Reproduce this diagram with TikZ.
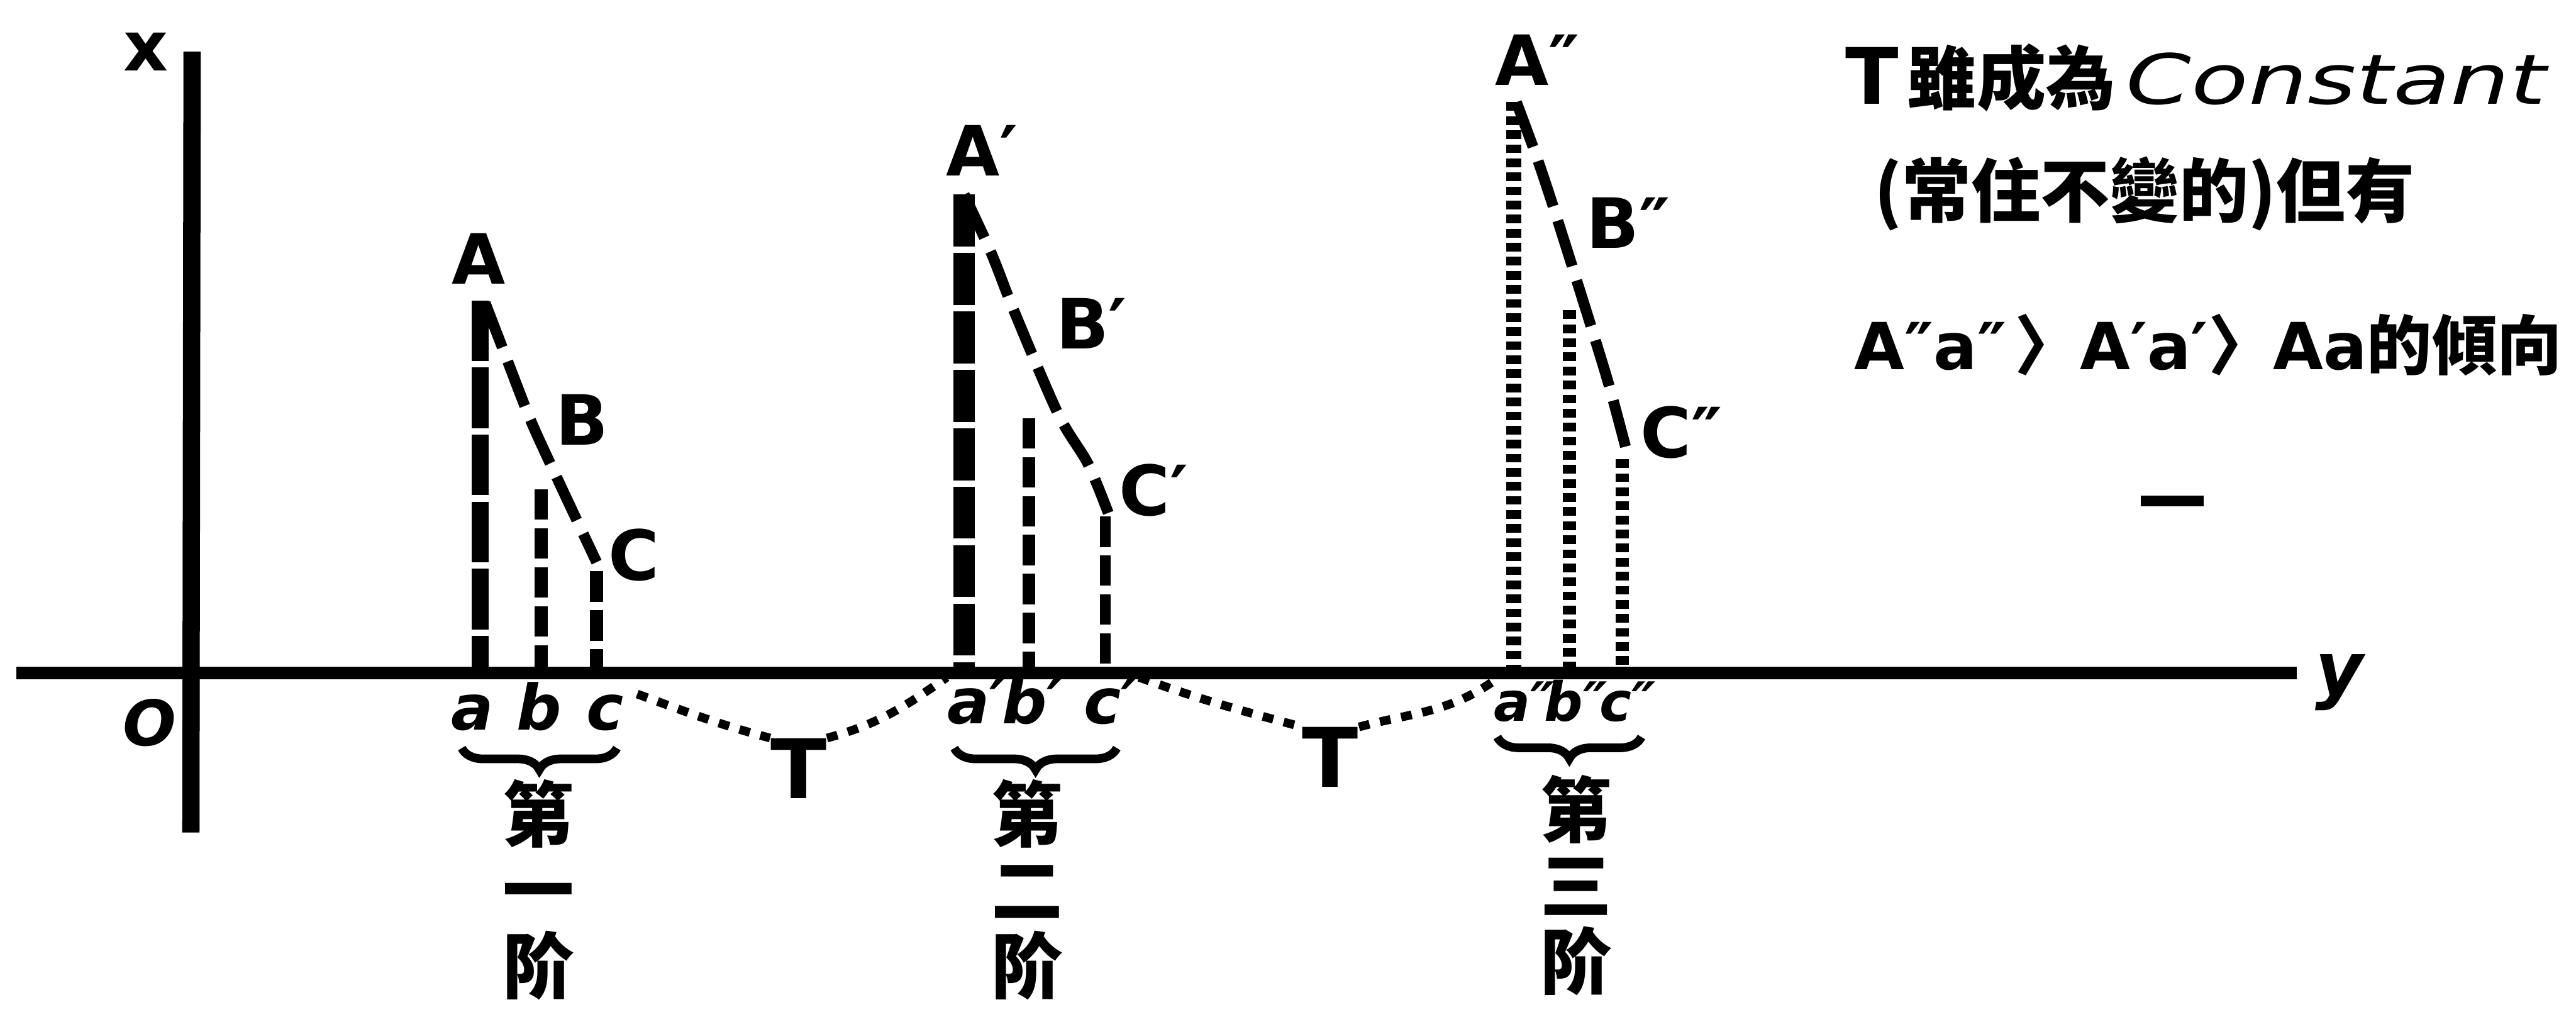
\documentclass[tikz,border=0pt]{standalone}
\usepackage{fontspec}
\setmainfont{DejaVu Sans}
\newfontfamily\cjk{Noto Sans CJK TC}
\usetikzlibrary{positioning,decorations.pathreplacing}

\begin{document}
\begin{tikzpicture}[
        lbl/.style={font=\fontsize{32}{36}\selectfont\bfseries, inner sep=0pt},
        sublbl/.style={font=\fontsize{29}{32}\selectfont\bfseries\itshape, inner sep=0pt, anchor=base},
        tlbl/.style={font=\fontsize{38}{40}\selectfont\bfseries, inner sep=0pt},
        stagelbl/.style={font=\fontsize{33}{35}\selectfont\cjk\bfseries, align=center, inner sep=0pt, anchor=north},
        note/.style={font=\fontsize{32}{36}\selectfont, inner sep=0pt, anchor=west},
        axisline/.style={line width=6pt},
        vthick/.style={line width=8pt, dash pattern=on 28pt off 3pt},
        vdash/.style={line width=6pt, dash pattern=on 14pt off 4pt},
        vdot/.style={line width=6pt, dash pattern=on 4pt off 2.5pt},
        slope/.style={line width=5pt, dash pattern=on 22pt off 7pt},
        tline/.style={line width=4pt, dash pattern=on 5pt off 5pt},
        brc/.style={decorate, decoration={brace, mirror, amplitude=0.35cm}, line width=4pt}]
        \useasboundingbox (0,0) rectangle (41.84,16.43);

        \coordinate (yl) at (0.27,5.50);
        \coordinate (yr) at (37.30,5.50);
        \coordinate (xt) at (3.12,15.59);
        \coordinate (xb) at (3.10,2.91);
        \draw[axisline] (yl) -- (yr);
        \draw[axisline, line width=8pt] (xt) -- (xb);
        \node[lbl] (xl) at (2.37,15.59) {x};
        \node[lbl, font=\fontsize{29}{32}\selectfont\bfseries\itshape] (ol) at (2.43,4.69) {O};
        \node[lbl, font=\fontsize{34}{36}\selectfont\bfseries\itshape] (yll) at (38.00,5.35) {y};

        \coordinate (A1) at (7.80,11.55);
        \coordinate (B1) at (8.79,8.48);
        \coordinate (C1) at (9.69,7.15);
        \coordinate (A1b) at (7.80,5.50);
        \coordinate (B1b) at (8.79,5.50);
        \coordinate (C1b) at (9.69,5.50);
        \draw[vthick] (A1) -- (A1b);
        \draw[vdash] (B1) -- (B1b);
        \draw[vdash] (C1) -- (C1b);
        \draw[slope] plot[smooth] coordinates {(7.88,11.51) (8.25,10.55) (8.62,9.60) (9.05,8.66) (9.69,7.30)};
        \node[lbl] (la1) at (7.77,12.23) {A};
        \node[lbl] (lb1) at (9.45,9.61) {B};
        \node[lbl] (lc1) at (10.30,7.42) {C};
        \node[sublbl] (a1) at (7.67,4.58) {a};
        \node[sublbl] (b1) at (8.76,4.58) {b};
        \node[sublbl] (c1) at (9.83,4.58) {c};

        \coordinate (A2) at (15.66,13.27);
        \coordinate (B2) at (16.71,9.64);
        \coordinate (C2) at (17.95,8.04);
        \coordinate (A2b) at (15.66,5.50);
        \coordinate (B2b) at (16.71,5.50);
        \coordinate (C2b) at (17.95,5.50);
        \draw[vthick, line width=10pt, dash pattern=on 24pt off 3pt] (A2) -- (A2b);
        \draw[vdash] (B2) -- (B2b);
        \draw[vdash, line width=5pt] (C2) -- (C2b);
        \draw[slope] plot[smooth] coordinates {(15.66,13.27) (16.10,12.32) (16.47,11.38) (17.19,9.70) (17.67,8.90) (18.00,8.10)};
        \node[lbl] (la2) at (15.80,13.98) {A\rlap{′}};
        \node[lbl] (lb2) at (17.58,11.18) {B\rlap{′}};
        \node[lbl] (lc2) at (18.59,8.47) {C\rlap{′}};
        \node[sublbl] (a2) at (15.73,4.68) {a\rlap{′}};
        \node[sublbl] (b2) at (16.64,4.68) {b\rlap{′}};
        \node[sublbl] (c2) at (17.91,4.68) {c\rlap{′}};

        \coordinate (A3) at (24.59,14.77);
        \coordinate (B3) at (25.49,11.39);
        \coordinate (C3) at (26.35,8.97);
        \coordinate (A3b) at (24.59,5.50);
        \coordinate (B3b) at (25.49,5.50);
        \coordinate (C3b) at (26.35,5.50);
        \draw[vdot, line width=7pt] (A3) -- (A3b);
        \draw[vdot] (B3) -- (B3b);
        \draw[vdot] (C3) -- (C3b);
        \draw[slope] plot[smooth] coordinates {(24.63,14.77) (24.98,13.82) (25.30,12.85) (25.82,11.20) (26.14,10.15) (26.44,9.03)};
        \node[lbl] (la3) at (24.72,15.46) {A\rlap{″}};
        \node[lbl] (lb3) at (26.20,12.81) {B\rlap{″}};
        \node[lbl] (lc3) at (27.06,9.41) {C\rlap{″}};
        \node[sublbl, font=\fontsize{25}{28}\selectfont\bfseries\itshape] (a3) at (24.56,4.72) {a\rlap{″}};
        \node[sublbl, font=\fontsize{25}{28}\selectfont\bfseries\itshape] (b3) at (25.40,4.72) {b\rlap{″}};
        \node[sublbl, font=\fontsize{25}{28}\selectfont\bfseries\itshape] (c3) at (26.24,4.72) {c\rlap{″}};

        \draw[brc] (7.50,4.28) -- (10.02,4.28);
        \draw[brc] (15.50,4.28) -- (18.14,4.28);
        \draw[brc] (24.32,4.46) -- (26.66,4.46);
        \node[stagelbl] (s1) at (8.75,3.78) {第\\一\\阶};
        \node[stagelbl] (s2) at (16.68,3.78) {第\\二\\阶};
        \node[stagelbl] (s3) at (25.60,3.85) {第\\三\\阶};

        \node[tlbl] (t1) at (12.97,3.95) {T};
        \node[tlbl] (t2) at (21.61,4.13) {T};
        \draw[tline] ([xshift=6pt]c1.north east) to[out=-20,in=165] (t1.north west);
        \draw[tline] (t1.north east) to[out=15,in=-145] (a2.north west);
        \draw[tline] ([xshift=8pt]c2.north east) to[out=-20,in=165] (t2.north west);
        \draw[tline] (t2.north east) to[out=15,in=-145] (a3.north west);

        \node[note] (n1) at (29.97,15.17) {{\fontsize{36}{40}\selectfont\bfseries T}\hspace{4pt}{\cjk\bfseries 雖成為}\hspace{5pt}\scalebox{1.35}[1]{\itshape Constant}};
        \node[note] (n2) at (30.44,13.28) {\cjk\bfseries (常住不變的)但有};
        \node[note, font=\fontsize{30}{34}\selectfont] (n3) at (30.11,10.83) {\bfseries A″a″\hspace{4pt}{\cjk 〉}A′a′{\cjk 〉}Aa{\cjk 的傾向}};
        \coordinate (m1) at (34.77,8.29);
        \coordinate (m2) at (35.79,8.29);
        \draw[line width=5pt] (m1) -- (m2);
    \end{tikzpicture}
\end{document}
